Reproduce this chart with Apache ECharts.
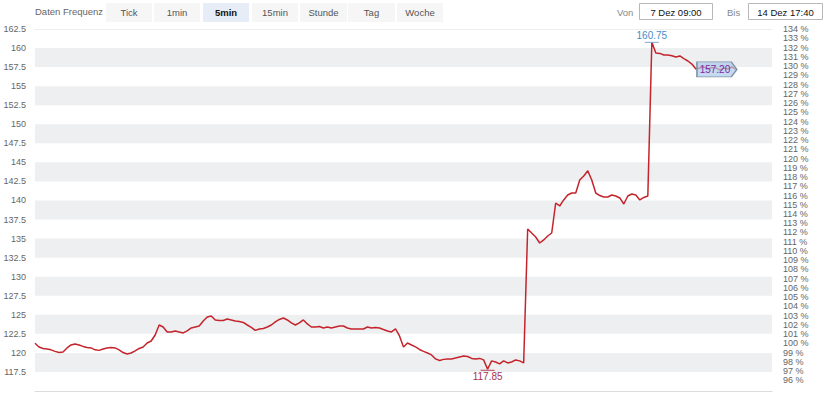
<!DOCTYPE html>
<html>
<head>
<meta charset="utf-8">
<script src="https://cdn.jsdelivr.net/npm/echarts@6/dist/echarts.min.js"></script>
<style>
html,body{margin:0;padding:0;background:#fff;}
#chart{width:830px;height:400px;}
</style>
</head>
<body>
<div id="chart"></div>
<script>
// ---- data (5-min prices, 7 Dez 09:00 – 14 Dez) ----
const priceValues = [
121.27, 120.78, 120.58, 120.52, 120.40, 120.20, 120.05, 120.12, 120.65, 121.04,
121.17, 121.04, 120.85, 120.72, 120.65, 120.40, 120.33, 120.52, 120.65, 120.72,
120.65, 120.40, 120.05, 119.86, 119.99, 120.26, 120.58, 120.78, 121.30, 121.56,
122.35, 123.66, 123.40, 122.75, 122.75, 122.88, 122.75, 122.62, 122.88, 123.27,
123.40, 123.53, 124.19, 124.71, 124.85, 124.32, 124.25, 124.25, 124.45, 124.32,
124.19, 124.12, 124.00, 123.66, 123.34, 122.95, 123.14, 123.20, 123.40, 123.66,
124.06, 124.39, 124.58, 124.32, 123.93, 123.66, 123.93, 124.32, 123.80, 123.40,
123.40, 123.47, 123.27, 123.40, 123.27, 123.40, 123.53, 123.53, 123.27, 123.14,
123.14, 123.14, 123.14, 123.40, 123.27, 123.34, 123.27, 123.07, 122.88, 122.75,
123.14, 122.22, 120.78, 121.30, 121.04, 120.78, 120.45, 120.20, 119.99, 119.73,
119.21, 119.00, 119.15, 119.21, 119.21, 119.34, 119.47, 119.60, 119.53, 119.28,
119.21, 119.28, 119.08, 117.85, 118.95, 118.81, 118.55, 118.95, 118.68, 118.81,
119.08, 118.95, 118.68, 136.26, 135.73, 135.21, 134.42, 134.82, 135.34, 135.73,
139.67, 139.28, 140.07, 140.72, 140.98, 140.98, 142.69, 143.21, 143.90, 142.69,
140.98, 140.65, 140.46, 140.46, 140.72, 140.59, 140.33, 139.54, 140.59, 140.85,
140.72, 140.07, 140.40, 140.59, 160.75, 159.35, 159.30, 159.09, 159.09, 159.00,
158.83, 158.96, 158.60, 158.30, 157.90, 157.26, 157.39, 157.52, 157.26, 157.45,
157.39, 157.12, 157.39, 157.26, 157.52, 157.20
];
const basePrice = 121.25; // 100 % reference level
const totalSlots = 185; // axis runs on past the last quote up to 17:40
const categories = Array.from({length: totalSlots}, (_, i) => String(i));
const priceMin = 115, priceMax = 162.5, priceStep = 2.5;
const pctTicks = [96,97,98,99,100,101,102,103,104,105,106,107,108,109,110,111,112,113,114,115,
                  116,117,118,119,120,121,122,123,124,125,126,127,128,129,130,131,132,133,134];
const freqButtons = ['Tick', '1min', '5min', '15min', 'Stunde', 'Tag', 'Woche'];
const selectedFreq = '5min';
const fromLabel = 'Von', fromValue = '7 Dez 09:00';
const toLabel = 'Bis', toValue = '14 Dez 17:40';

const lastIdx = priceValues.length - 1;
const FONT = '"Liberation Sans", Arial, Helvetica, sans-serif';

// ---- toolbar graphics ----
const graphics = [];
graphics.push({type:'text', left:35, top:6, style:{text:'Daten Frequenz', fill:'#666', font:'9.5px ' + FONT}});
const btnX = [106, 154, 203, 252, 300, 348, 397];
const btnW = [46, 46, 46, 46, 47, 47, 46];
freqButtons.forEach((b, i) => {
  const sel = b === selectedFreq;
  graphics.push({type:'rect', shape:{x:btnX[i], y:3, width:btnW[i], height:19},
    style:{fill: sel ? '#e6edf7' : '#f6f6f6'}, z:1});
  graphics.push({type:'text', x:btnX[i] + btnW[i]/2, y:12.5, z:2,
    style:{text:b, textAlign:'center', textVerticalAlign:'middle',
      fill: sel ? '#111' : '#555', font:(sel ? 'bold ' : '') + '9.5px ' + FONT}});
});
graphics.push({type:'text', x:617, y:12, style:{text:fromLabel, textVerticalAlign:'middle', fill:'#888', font:'9.5px ' + FONT}});
graphics.push({type:'rect', shape:{x:639.5, y:3.5, width:73, height:16}, style:{fill:'#fff', stroke:'#b8b8b8', lineWidth:1}});
graphics.push({type:'text', x:676, y:12, style:{text:fromValue, textAlign:'center', textVerticalAlign:'middle', fill:'#111', font:'9.5px ' + FONT}});
graphics.push({type:'text', x:727, y:12, style:{text:toLabel, textVerticalAlign:'middle', fill:'#888', font:'9.5px ' + FONT}});
graphics.push({type:'rect', shape:{x:748.5, y:3.5, width:74, height:16}, style:{fill:'#fff', stroke:'#b8b8b8', lineWidth:1}});
graphics.push({type:'text', x:785.5, y:12, style:{text:toValue, textAlign:'center', textVerticalAlign:'middle', fill:'#111', font:'9.5px ' + FONT}});

const chart = echarts.init(document.getElementById('chart'), null, {renderer:'svg'});
chart.setOption({
  animation: false,
  backgroundColor: '#fff',
  textStyle: {fontFamily: FONT},
  graphic: graphics,
  grid: {left:35, right:58, top:29, bottom:9, containLabel:false},
  xAxis: [{
    type:'category', data:categories, boundaryGap:false,
    axisLine:{show:true, lineStyle:{color:'#dcdcdc', width:1}},
    axisTick:{show:false}, axisLabel:{show:false}, splitLine:{show:false}
  }, {
    type:'category', data:categories, boundaryGap:false, position:'top',
    axisLine:{show:true, lineStyle:{color:'#eeeeee', width:1}},
    axisTick:{show:false}, axisLabel:{show:false}, splitLine:{show:false}
  }],
  yAxis: [{
    type:'value', min:priceMin, max:priceMax, interval:priceStep, position:'left',
    axisLine:{show:false}, axisTick:{show:false}, splitLine:{show:false},
    splitArea:{show:true, areaStyle:{color:['rgba(255,255,255,0)', '#eeeff1']}},
    axisLabel:{show:true, color:'#666', fontSize:9, margin:9, showMinLabel:false}
  }, {
    type:'value', position:'right',
    min: priceMin / basePrice * 100, max: priceMax / basePrice * 100,
    axisLine:{show:false}, axisTick:{show:false}, splitLine:{show:false}, splitArea:{show:false},
    axisLabel:{show:true, color:'#666', fontSize:9, margin:11, customValues:pctTicks,
      formatter: v => Math.round(v) + ' %'}
  }],
  series: [{
    type:'line', data:priceValues, xAxisIndex:0, yAxisIndex:0,
    showSymbol:false, symbol:'none',
    lineStyle:{color:'#c4242b', width:1.5},
    itemStyle:{color:'#c4242b'},
    markPoint:{
      silent:true,
      data:[
        {type:'max', symbol:'rect', symbolSize:[14,1], symbolOffset:[0,0],
          itemStyle:{color:'#7fa9d2'},
          label:{show:true, position:'top', distance:1, color:'#3f8cc6', fontSize:10,
            formatter: p => p.value.toFixed(2)}},
        {type:'min', symbol:'rect', symbolSize:[14,1], symbolOffset:[0,1],
          itemStyle:{color:'#b3425e'},
          label:{show:true, position:'bottom', distance:1, color:'#a8344f', fontSize:10,
            formatter: p => p.value.toFixed(2)}},
        {coord:[lastIdx, priceValues[lastIdx]], value:priceValues[lastIdx],
          symbol:'path://M0,0 L36,0 L42,8 L36,16 L0,16 Z', symbolSize:[40,15], symbolOffset:[-19,0],
          symbolKeepAspect:false,
          itemStyle:{color:'rgba(172,202,234,0.7)', borderColor:'#7f93a8', borderWidth:1},
          label:{show:true, position:'inside', offset:[-2,0], color:'#7a2aa6', fontSize:10,
            formatter: p => p.value.toFixed(2)}}
      ]
    }
  }]
});
</script>
</body>
</html>
